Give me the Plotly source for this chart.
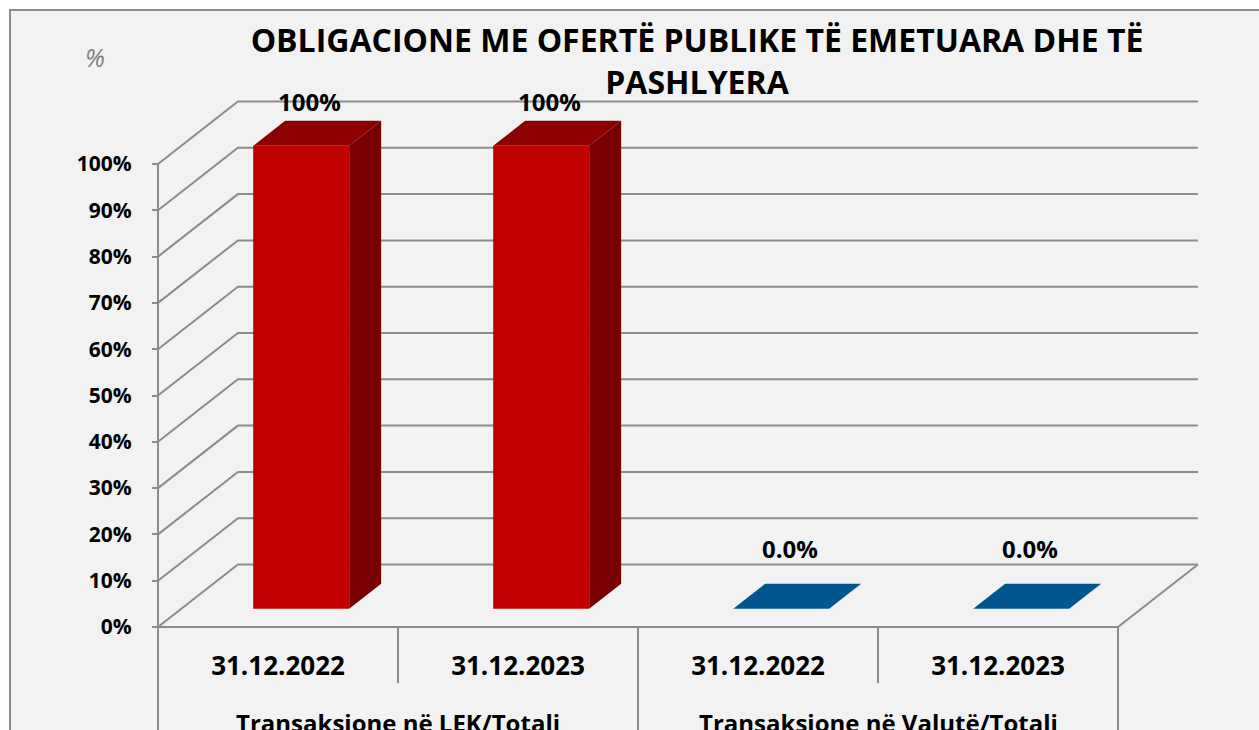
import plotly.graph_objects as go

# ---------------------------------------------------------------
# Data
# ---------------------------------------------------------------
categories = ["31.12.2022", "31.12.2023", "31.12.2022", "31.12.2023"]
groups = ["Transaksione në LEK/Totali", "Transaksione në Valutë/Totali"]
values = [100, 100, 0.0, 0.0]
value_labels = ["100%", "100%", "0.0%", "0.0%"]
tick_values = [0, 10, 20, 30, 40, 50, 60, 70, 80, 90, 100]

TITLE = "OBLIGACIONE ME OFERTË PUBLIKE TË EMETUARA DHE TË<br>PASHLYERA"

# ---------------------------------------------------------------
# Styling / pseudo 3D geometry
# ---------------------------------------------------------------
W, H = 1259, 730
FONT = "Open Sans"
GRID = "#8c8c8c"

# oblique depth offset of the back wall, in axis units
DX = 0.333
DY = 13.5
# bar footprint: width in category units, depth fractions front/back
BAR_W = 0.4
F1, F2 = 0.29, 0.69

COLORS = [
    ("#c00000", "#8e0000", "#780000"),
    ("#c00000", "#8e0000", "#780000"),
    ("#00568f", "#00568f", "#003f6b"),
    ("#00568f", "#00568f", "#003f6b"),
]

# axis ranges so the plotting space fills the whole page
X_RANGE = [-278 / 240, (W - 278) / 240]
Y_RANGE = [(627 - H) / 4.63, 627 / 4.63]
X_LEFT, X_RIGHT = -0.5, len(categories) - 0.5


def proj(x, v, d):
    return x + d * DX, v + d * DY


def path(points):
    s = "M " + " L ".join(f"{x},{y}" for x, y in points)
    return s + " Z"


fig = go.Figure()

# invisible trace to set up the axes
fig.add_trace(
    go.Scatter(
        x=list(range(len(categories))),
        y=values,
        mode="markers",
        marker=dict(opacity=0),
        hoverinfo="skip",
        showlegend=False
    )
)

shapes = []

# chart area background
shapes.append(
    dict(
        type="rect", xref="paper", yref="paper",
        x0=10 / W, x1=1.05, y0=-0.05, y1=(H - 10) / H,
        fillcolor="#f2f2f2", line=dict(color=GRID, width=2),
        layer="below"
    )
)

# gridlines: left wall diagonal + back wall horizontal
for v in tick_values:
    x0, y0 = X_LEFT, v
    x1, y1 = proj(X_LEFT, v, 1)
    x2, y2 = proj(X_RIGHT, v, 1)
    shapes.append(
        dict(
            type="path", xref="x", yref="y",
            path=f"M {x0},{y0} L {x1},{y1} L {x2},{y2}",
            line=dict(color=GRID, width=2), layer="below"
        )
    )

# front vertical axis line
shapes.append(
    dict(type="line", xref="x", yref="y",
         x0=X_LEFT, x1=X_LEFT, y0=tick_values[-1], y1=Y_RANGE[0],
         line=dict(color=GRID, width=2), layer="below")
)

# floor front edge + right edge
shapes.append(
    dict(type="line", xref="x", yref="y",
         x0=X_LEFT, x1=X_RIGHT, y0=0, y1=0,
         line=dict(color=GRID, width=2), layer="below")
)
rx, ry = proj(X_RIGHT, 0, 1)
shapes.append(
    dict(type="line", xref="x", yref="y",
         x0=X_RIGHT, x1=rx, y0=0, y1=ry,
         line=dict(color=GRID, width=2), layer="below")
)

# category / group dividers below the floor
n = len(categories)
for k in range(n + 1):
    xb = k - 0.5
    long_line = k % 2 == 0
    shapes.append(
        dict(type="line", xref="x", yref="y",
             x0=xb, x1=xb, y0=0,
             y1=Y_RANGE[0] if long_line else -12.1,
             line=dict(color=GRID, width=2), layer="below")
    )

# bars as oblique boxes
for i, v in enumerate(values):
    front, top, side = COLORS[i]
    l, r = i - BAR_W / 2, i + BAR_W / 2

    face = [proj(l, 0, F1), proj(r, 0, F1), proj(r, v, F1), proj(l, v, F1)]
    right = [proj(r, 0, F1), proj(r, 0, F2), proj(r, v, F2), proj(r, v, F1)]
    lid = [proj(l, v, F1), proj(r, v, F1), proj(r, v, F2), proj(l, v, F2)]

    if v > 0:
        shapes.append(dict(type="path", xref="x", yref="y", path=path(right),
                           fillcolor=side, line=dict(width=0)))
        shapes.append(dict(type="path", xref="x", yref="y", path=path(face),
                           fillcolor=front, line=dict(width=0)))
    shapes.append(dict(type="path", xref="x", yref="y", path=path(lid),
                       fillcolor=top, line=dict(width=0)))

annotations = []

# data labels
for i, (v, lab) in enumerate(zip(values, value_labels)):
    lx, ly = proj(i, v, 0.4)
    annotations.append(
        dict(x=lx, y=v + DY, xref="x", yref="y", text=lab,
             showarrow=False, yshift=16 if v == 0 else 0,
             font=dict(family=FONT, size=24, color="black", weight="bold"))
    )

# group labels
for g, name in enumerate(groups):
    annotations.append(
        dict(x=2 * g + 0.5, y=8 / H, xref="x", yref="paper", text=name,
             showarrow=False, yanchor="middle",
             font=dict(family=FONT, size=24, color="black", weight="bold"))
    )

# unit label
annotations.append(
    dict(x=95 / W, y=(H - 57) / H, xref="paper", yref="paper", text="%",
         showarrow=False, xanchor="center", yanchor="middle",
         font=dict(family=FONT, size=25, color="#808080", style="italic"))
)

fig.update_layout(
    width=W,
    height=H,
    margin=dict(l=0, r=0, t=0, b=0),
    paper_bgcolor="white",
    plot_bgcolor="rgba(0,0,0,0)",
    title=dict(
        text=TITLE,
        x=697 / W,
        xanchor="center",
        y=(H - 52) / H,
        yanchor="top",
        font=dict(family=FONT, size=32, color="black", weight="bold")
    ),
    shapes=shapes,
    annotations=annotations,
    showlegend=False
)

fig.update_xaxes(
    range=X_RANGE,
    domain=[0, 1],
    anchor="free",
    position=(H - 627) / H,
    tickvals=list(range(n)),
    ticktext=categories,
    ticks="",
    ticklabelstandoff=21,
    tickfont=dict(family=FONT, size=26, color="black", weight="bold"),
    showgrid=False,
    zeroline=False,
    showline=False
)

fig.update_yaxes(
    range=Y_RANGE,
    domain=[0, 1],
    anchor="free",
    position=158 / W,
    tickvals=tick_values,
    ticktext=[f"{t}%" for t in tick_values],
    ticks="outside",
    ticklen=6,
    tickwidth=2,
    tickcolor=GRID,
    ticklabelstandoff=16,
    tickfont=dict(family=FONT, size=21, color="black", weight="bold"),
    showgrid=False,
    zeroline=False,
    showline=False
)

# drop the default page margin so the figure sits at the window origin
fig.write_html(
    "out.html",
    config={"displayModeBar": False},
    post_script="document.body.style.margin = '0';"
)
